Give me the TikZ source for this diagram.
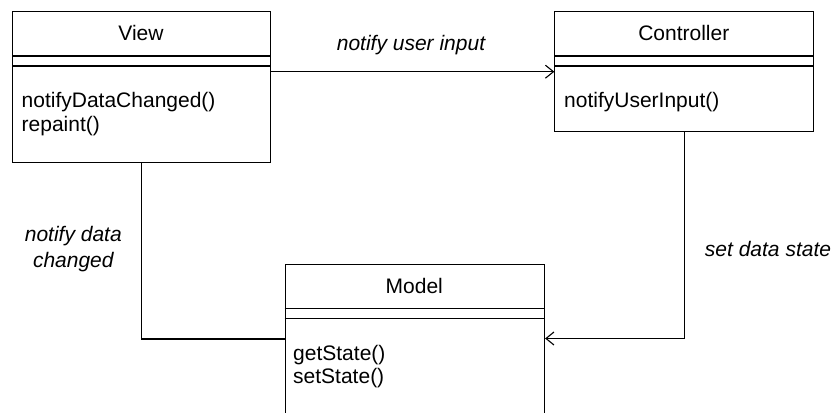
\documentclass[tikz,border=0pt]{standalone}
\usepackage{fontspec}
\setmainfont{Liberation Sans}
\usetikzlibrary{arrows.meta}
\begin{document}
\begin{tikzpicture}[x=1pt,y=-1pt,
  umlbox/.style={draw=black, line width=1.1pt, rectangle, inner sep=0pt, anchor=north west},
  ttl/.style={font=\fontsize{21}{24}\selectfont, inner sep=0pt, anchor=base},
  meth/.style={font=\fontsize{21}{24}\selectfont, inner sep=0pt, anchor=base west},
  lbl/.style={font=\fontsize{21}{24}\selectfont\itshape, inner sep=0pt, anchor=base},
  conn/.style={draw=black, line width=1.1pt},
  arr/.style={conn, -{Straight Barb[length=8pt,width=13pt,line width=1.1pt]}}
]
\useasboundingbox (0,0) rectangle (840,412);
\clip (0,0) rectangle (840,412);

% View
\node[umlbox, minimum width=258pt, minimum height=150.4pt] (view) at (12,11.3) {};
\draw[conn] ([yshift=-44.7pt]view.north west) -- ([yshift=-44.7pt]view.north east);
\draw[conn] ([yshift=-54.7pt]view.north west) -- ([yshift=-54.7pt]view.north east);
\node[ttl] (viewT) at (141,41) {View};
\node[meth] (viewM1) at (21.5,107.3) {notifyDataChanged()};
\node[meth] (viewM2) at (21.5,131.7) {repaint()};

% Controller
\node[umlbox, minimum width=259pt, minimum height=119.7pt] (ctrl) at (554.3,11.3) {};
\draw[conn] ([yshift=-44.7pt]ctrl.north west) -- ([yshift=-44.7pt]ctrl.north east);
\draw[conn] ([yshift=-54.7pt]ctrl.north west) -- ([yshift=-54.7pt]ctrl.north east);
\node[ttl] (ctrlT) at (683.8,41) {Controller};
\node[meth] (ctrlM1) at (564,107.3) {notifyUserInput()};

% Model
\node[umlbox, minimum width=259.3pt, minimum height=180pt] (model) at (284.7,264) {};
\draw[conn] ([yshift=-44.7pt]model.north west) -- ([yshift=-44.7pt]model.north east);
\draw[conn] ([yshift=-54.7pt]model.north west) -- ([yshift=-54.7pt]model.north east);
\node[ttl] (modelT) at (414.3,293.7) {Model};
\node[meth] (modelM1) at (293,360) {getState()};
\node[meth] (modelM2) at (293,383.5) {setState()};

% Connectors
\draw[arr] (view.east |- ctrl.west) -- (ctrl.west);
\draw[arr] (ctrl.south) |- ([yshift=-74.5pt]model.north east);
\draw[conn] (view.south) |- ([yshift=-75pt]model.north west);

% Labels
\node[lbl] (l1) at (411,50.5) {notify user input};
\node[lbl] (l2a) at (73.3,241.7) {notify data};
\node[lbl] (l2b) at (73.3,267.5) {changed};
\node[lbl] (l3) at (768,256.5) {set data state};
\end{tikzpicture}
\end{document}
